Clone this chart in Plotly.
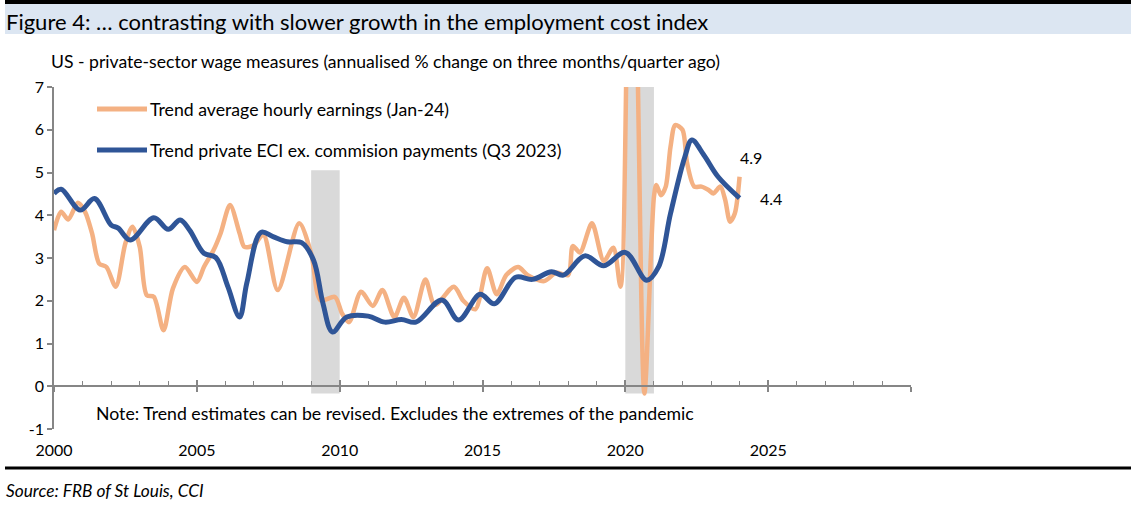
import plotly.graph_objects as go

# trend average hourly earnings (monthly)
ahe_dates = ['2000-01', '2000-04', '2000-07', '2000-11', '2001-02', '2001-05', '2001-08', '2001-11',
             '2002-03', '2002-07', '2002-10', '2003-01', '2003-04', '2003-07', '2003-11', '2004-03',
             '2004-08', '2005-01', '2005-04', '2005-08', '2005-11', '2006-03', '2006-07', '2006-09',
             '2007-01', '2007-05', '2007-11', '2008-08', '2009-01', '2009-05', '2009-11', '2010-02',
             '2010-05', '2010-10', '2011-03', '2011-07', '2011-12', '2012-04', '2012-08', '2013-01',
             '2013-05', '2014-01', '2014-05', '2014-10', '2015-03', '2015-07', '2015-11', '2016-04',
             '2016-08', '2017-03', '2017-08', '2018-01', '2018-03', '2018-06', '2018-11', '2019-04',
             '2019-08', '2019-11', '2020-03', '2020-05', '2020-09', '2021-01', '2021-02', '2021-04',
             '2021-06', '2021-08', '2021-10', '2022-01', '2022-03', '2022-06', '2022-09', '2022-12',
             '2023-02', '2023-05', '2023-07', '2023-09', '2023-11', '2024-01']
ahe_values = [3.65, 4.08, 3.90, 4.29, 4.08, 3.58, 2.87, 2.79,
              2.33, 3.34, 3.73, 3.26, 2.13, 2.09, 1.31, 2.29,
              2.79, 2.44, 2.79, 3.18, 3.58, 4.24, 3.58, 3.26,
              3.30, 3.55, 2.25, 3.81, 3.11, 2.01, 2.09, 1.70,
              1.50, 2.21, 1.88, 2.25, 1.62, 2.07, 1.62, 2.50,
              1.90, 2.33, 2.00, 1.80, 2.76, 2.15, 2.60, 2.79,
              2.60, 2.46, 2.66, 2.60, 3.28, 3.13, 3.81, 2.93,
              3.24, 2.33, 11.0, 10.0, -0.17, 4.43, 4.71, 4.47,
              4.67, 5.60, 6.11, 6.00, 5.22, 4.67, 4.67, 4.59,
              4.51, 4.67, 4.36, 3.85, 4.04, 4.90]

# trend private ECI ex. commission payments
eci_dates = ['2000-01', '2000-04', '2000-12', '2001-06', '2002-01', '2002-04', '2002-09', '2003-07',
             '2004-01', '2004-06', '2004-10', '2005-04', '2005-09', '2006-02', '2006-07', '2006-10',
             '2007-04', '2007-09', '2008-03', '2008-09', '2009-02', '2009-06', '2009-10', '2010-04',
             '2011-01', '2011-08', '2012-03', '2012-09', '2013-08', '2014-03', '2014-12', '2015-06',
             '2016-03', '2016-10', '2017-06', '2017-11', '2018-08', '2019-04', '2020-01', '2020-10',
             '2021-03', '2021-08', '2022-02', '2022-05', '2022-10', '2023-04', '2024-01']
eci_values = [4.51, 4.61, 4.12, 4.39, 3.77, 3.70, 3.42, 3.94,
              3.67, 3.89, 3.65, 3.11, 3.01, 2.33, 1.62, 2.41,
              3.60, 3.50, 3.38, 3.36, 2.95, 1.94, 1.27, 1.62,
              1.64, 1.50, 1.56, 1.50, 2.02, 1.55, 2.15, 1.93,
              2.55, 2.50, 2.68, 2.60, 3.05, 2.82, 3.13, 2.48,
              2.79, 4.04, 5.37, 5.76, 5.41, 4.90, 4.40]

# recession shading
rec_start = ['2009-01-01', '2020-01-01']
rec_end = ['2010-01-01', '2021-01-01']
rec_top = [5.05, 7.0]
rec_bottom = -0.17

x_tick_labels = ['2000', '2005', '2010', '2015', '2020', '2025']
y_tick_values = [-1, 0, 1, 2, 3, 4, 5, 6, 7]

ahe_name = 'Trend average hourly earnings (Jan-24)'
eci_name = 'Trend private ECI ex. commision payments (Q3 2023)'
ORANGE = '#F4B183'
BLUE = '#2F5597'
AXIS = '#868686'
FONT = 'Lato'

W, H = 1131, 511
L, R, T, B = 54, 220, 87, 82
pw, ph = W - L - R, H - T - B


def px(x):
    return (x - L) / pw


def py(y):
    return (H - B - y) / ph


fig = go.Figure()
fig.add_trace(go.Scatter(x=ahe_dates, y=ahe_values, name=ahe_name, mode='lines',
                         line=dict(color=ORANGE, width=4.5, shape='spline', smoothing=0.8)))
fig.add_trace(go.Scatter(x=eci_dates, y=eci_values, name=eci_name, mode='lines',
                         line=dict(color=BLUE, width=5, shape='spline', smoothing=1)))

for s, e, t in zip(rec_start, rec_end, rec_top):
    fig.add_shape(type='rect', xref='x', yref='y', x0=s, x1=e, y0=rec_bottom, y1=t,
                  fillcolor='#D9D9D9', line_width=0, layer='below')

# header band, rules
fig.add_shape(type='rect', xref='paper', yref='paper', x0=px(5), x1=px(1131), y0=py(34), y1=py(4),
              fillcolor='#DCE6F2', line_width=0)
fig.add_shape(type='line', xref='paper', yref='paper', x0=px(5), x1=px(1131), y0=py(2), y1=py(2),
              line=dict(color='black', width=4))
fig.add_shape(type='line', xref='paper', yref='paper', x0=px(5), x1=px(1131), y0=py(468), y1=py(468),
              line=dict(color='black', width=3))

# legend drawn in the chart's own style
for yy, col, name in [(109, ORANGE, ahe_name), (150, BLUE, eci_name)]:
    fig.add_shape(type='line', xref='paper', yref='paper', x0=px(97), x1=px(147), y0=py(yy), y1=py(yy),
                  line=dict(color=col, width=5))
    fig.add_annotation(xref='paper', yref='paper', x=px(148), y=py(yy), text=name, showarrow=False,
                       xanchor='left', yanchor='middle', font=dict(size=17.7, color='black'))

fig.add_annotation(xref='paper', yref='paper', x=px(4), y=py(21),
                   text='Figure 4: … contrasting with slower growth in the employment cost index',
                   showarrow=False, xanchor='left', yanchor='middle', font=dict(size=22, color='black'))
fig.add_annotation(xref='paper', yref='paper', x=px(49), y=py(61),
                   text='US - private-sector wage measures (annualised % change on three months/quarter ago)',
                   showarrow=False, xanchor='left', yanchor='middle', font=dict(size=17.6, color='black'))
fig.add_annotation(xref='paper', yref='paper', x=px(94), y=py(413),
                   text='Note: Trend estimates can be revised. Excludes the extremes of the pandemic',
                   showarrow=False, xanchor='left', yanchor='middle', font=dict(size=17.7, color='black'))
fig.add_annotation(xref='paper', yref='paper', x=px(4), y=py(490), text='<i>Source: FRB of St Louis, CCI</i>',
                   showarrow=False, xanchor='left', yanchor='middle', font=dict(size=17.3, color='black'))

# end-point labels
fig.add_annotation(x=ahe_dates[-1], y=ahe_values[-1], text=f'{ahe_values[-1]:.1f}', showarrow=False,
                   xanchor='center', yanchor='middle', xshift=11, yshift=19, font=dict(size=16, color='black'))
fig.add_annotation(x=eci_dates[-1], y=eci_values[-1], text=f'{eci_values[-1]:.1f}', showarrow=False,
                   xanchor='center', yanchor='middle', xshift=31, yshift=0, font=dict(size=16, color='black'))

xr = ['2000-01-01', '2030-01-01']
zero_axis = dict(type='date', range=xr, overlaying='x', anchor='free', position=0.125, matches='x',
                 showticklabels=False, showgrid=False, zeroline=False, tickcolor=AXIS, tickwidth=1.5,
                 tick0='2000-01-01', dtick='M60')
fig.update_layout(
    width=W, height=H,
    margin=dict(l=L, r=R, t=T, b=B),
    paper_bgcolor='white', plot_bgcolor='white',
    showlegend=False,
    font=dict(family=FONT, size=16, color='black'),
    xaxis=dict(type='date', range=xr, tickvals=[f'{y}-01-01' for y in x_tick_labels], ticktext=x_tick_labels,
               showline=False, showgrid=False, zeroline=False, ticks='', ticklabelstandoff=10),
    # axis line drawn through zero, with year ticks; major ticks cross the line
    xaxis2=dict(zero_axis, showline=True, linecolor=AXIS, linewidth=1.5, ticks='inside', ticklen=6,
                minor=dict(ticks='inside', ticklen=5, dtick='M12', tickcolor=AXIS, tickwidth=1)),
    xaxis3=dict(zero_axis, showline=False, ticks='outside', ticklen=5),
    yaxis=dict(range=[-1, 7], tickvals=y_tick_values, ticktext=[str(v) for v in y_tick_values],
               showgrid=False, zeroline=False, showline=True, linecolor=AXIS,
               linewidth=1.5, ticks='outside', ticklen=5, tickcolor=AXIS, tickwidth=1.5),
)
fig.add_trace(go.Scatter(x=xr, y=[None, None], xaxis='x2', showlegend=False, hoverinfo='skip'))
fig.add_trace(go.Scatter(x=xr, y=[None, None], xaxis='x3', showlegend=False, hoverinfo='skip'))

# the page's default 8px body margin would shift the whole chart
fig.write_html('out.html', config={'displayModeBar': False},
               post_script="document.body.style.margin='0';")
